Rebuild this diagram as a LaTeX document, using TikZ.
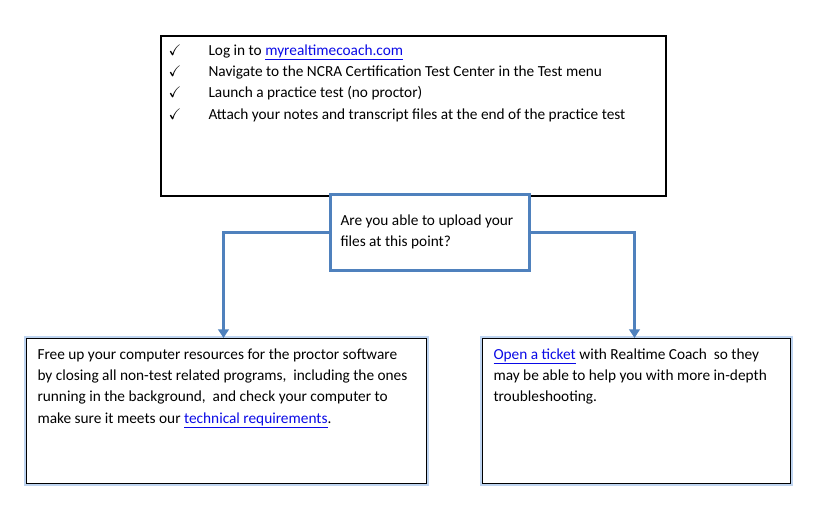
\documentclass[tikz,border=0pt]{standalone}
\usepackage{amssymb}
\usepackage{fontspec}
\setmainfont{Carlito}
\usetikzlibrary{arrows.meta}

\definecolor{flowblue}{RGB}{79,129,189}
\definecolor{linkblue}{RGB}{10,10,230}
\definecolor{glowblue}{RGB}{190,212,240}

\tikzset{every picture/.style={line width=0.75pt}}
\newcommand{\weblink}[1]{\textcolor{linkblue}{\underline{#1}}}
\newcommand{\tickline}[1]{\makebox[30pt][l]{$\checkmark$}#1}

\begin{document}
\begin{tikzpicture}[x=0.75pt,y=0.75pt,yscale=-1,xscale=1,
	every node/.style={font=\fontsize{11.5}{16}\selectfont},
	stepsbox/.style={draw, line width=1.5pt, inner sep=0, minimum width=378.75pt, minimum height=120pt, anchor=north west},
	askbox/.style={draw=flowblue, line width=2.25pt, fill=white, inner sep=0, minimum width=149.25pt, minimum height=57pt, anchor=north west},
	answerbox/.style={draw, fill=white, preaction={draw=glowblue, line width=4pt}, inner sep=0, minimum height=108.75pt, anchor=north west},
	boxtext/.style={anchor=north west, inner sep=0, align=left},
	flowline/.style={draw=flowblue, line width=2.25pt, -{Triangle[width=8pt,length=6.5pt]}}
	]
	\useasboundingbox (0,0) rectangle (817,524);

	%Shape: Rectangle [steps]
	\node [stepsbox] (steps) at (160,35) {};
	%Shape: Rectangle [question]
	\node [askbox] (ask) at (329,193) {};
	%Shape: Rectangle [left answer]
	\node [answerbox, minimum width=300pt] (free) at (26,338) {};
	%Shape: Rectangle [right answer]
	\node [answerbox, minimum width=231pt] (ticket) at (482,338) {};

	%Straight Lines [no]
	\draw [flowline] (ask.west) -| ([xshift=-2.25pt]free.north);
	%Straight Lines [yes]
	\draw [flowline] (ask.east) -| ([xshift=-1.5pt]ticket.north);

	% Text Node
	\node [boxtext] (stepstext) at (168,44) {\tickline{Log in to \weblink{myrealtimecoach.com}}\\
		\tickline{Navigate to the NCRA Certification Test Center in the Test menu}\\
		\tickline{Launch a practice test (no proctor)}\\
		\tickline{Attach your notes and transcript files at the end of the practice test}};
	% Text Node
	\node [boxtext] (asktext) at (340,214) {Are you able to upload your\\files at this point?};
	% Text Node
	\node [boxtext] (freetext) at (37,348) {Free up your computer resources for the proctor software\\
		by closing all non-test related programs,~ including the ones\\
		running in the background,~ and check your computer to\\
		make sure it meets our \weblink{technical requirements}.};
	% Text Node
	\node [boxtext] (tickettext) at (493,348) {\weblink{Open a ticket} with Realtime Coach~ so they\\
		may be able to help you with more in-depth\\
		troubleshooting.};

\end{tikzpicture}
\end{document}
